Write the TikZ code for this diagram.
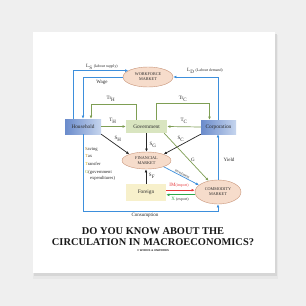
\documentclass[tikz,border=0pt]{standalone}
\usepackage{fontspec}
\setmainfont{Liberation Serif}
\newfontfamily\tinysans{Liberation Sans}
\usetikzlibrary{arrows.meta,shapes.geometric}
\definecolor{bgc}{HTML}{EFEFEF}
\definecolor{shd}{HTML}{D6D6D6}
\definecolor{hbl}{HTML}{6A8BCB}
\definecolor{hbr}{HTML}{C6D5EE}
\definecolor{gfill}{HTML}{D9E5C0}
\definecolor{ffill}{HTML}{F7F0CB}
\definecolor{mfill}{HTML}{F6DCCB}
\definecolor{mdraw}{HTML}{C9967B}
\definecolor{bl}{HTML}{3D8FDC}
\definecolor{gl}{HTML}{7E9E54}
\definecolor{rl}{HTML}{E8383A}
\definecolor{xl}{HTML}{2EA84A}
\definecolor{tx}{HTML}{2A2A2A}
\definecolor{savc}{HTML}{9C7A2C}
\definecolor{taxc}{HTML}{D2A632}
\definecolor{trc}{HTML}{D8BC2E}
\definecolor{gc}{HTML}{9DB24A}
\newcommand\smtxt{\fontsize{3.9}{4.4}\selectfont}
\begin{document}
\begin{tikzpicture}[x=1pt,y=-1pt,
  boxstyle/.style={rectangle, inner sep=0pt, text=tx, font=\fontsize{5.3}{6}\selectfont},
  hbox/.style={boxstyle, left color=hbl, right color=hbr, minimum width=36pt, minimum height=15pt},
  gbox/.style={boxstyle, fill=gfill, minimum width=41pt, minimum height=13pt},
  fbox/.style={boxstyle, fill=ffill, minimum width=40pt, minimum height=17pt},
  mkt/.style={ellipse, draw=mdraw, fill=mfill, line width=0.4pt, inner sep=0pt,
    minimum width=50pt, minimum height=20pt, align=center, text=tx,
    font=\fontsize{4.2}{4.8}\selectfont},
  lbl/.style={inner sep=0.8pt, text=tx, font=\fontsize{5}{5.6}\selectfont},
  arr/.style={-{Latex[length=3.2pt,width=2.8pt]}},
  bline/.style={draw=bl, line width=0.7pt},
  gline/.style={draw=gl, line width=0.7pt},
  kline/.style={draw=black!85, line width=0.7pt},
]
\useasboundingbox (0,0) rectangle (306,306);
\fill[bgc] (0,0) rectangle (306,306);
\fill[shd!60] (33,35) rectangle (278,279);
\fill[shd] (34,34) rectangle (277,276);
\fill[white] (33,32) rectangle (275,273);

% nodes
\node[hbox] (hh) at (83,126.5) {Household};
\node[gbox] (gov) at (146.5,126.5) {Government};
\node[hbox, minimum width=35pt, minimum height=14pt] (corp) at (218.5,127) {Corporation};
\node[mkt] (wf) at (148,77) {WORKFORCE\\MARKET};
\node[mkt, minimum width=49pt, minimum height=17pt] (fm) at (146.5,160.5) {FINANCIAL\\MARKET};
\node[fbox] (for) at (146,192.5) {Foreign};
\node[mkt, minimum width=46pt, minimum height=24pt] (cm) at (218,192) {COMMODITY\\MARKET};

% labour market
\draw[bline,arr] ([xshift=-10pt]hh.north) |- (wf.162);
\node[lbl] (ls) at (102,67) {L\textsubscript{S} {\smtxt(labour supply)}};
\draw[bline,arr] (wf.west) -| (hh.north);
\node[lbl] (wage) at (102,82) {Wage};
\draw[bline,arr] (corp.north) |- (wf.east);
\node[lbl] (ld) at (205,71) {L\textsubscript{D} {\smtxt(Labour demand)}};

% transfers
\draw[gline,arr] ([xshift=-10pt]gov.north) -- ++(0,-15) -| ([xshift=8pt]hh.north);
\node[lbl] (trh) at (111,99) {Tr\textsubscript{H}};
\draw[gline,arr] ([xshift=10pt]gov.north) -- ++(0,-16) -| ([xshift=-9pt]corp.north);
\node[lbl] (trc) at (183,99) {Tr\textsubscript{C}};

% taxes
\draw[gline,arr] (hh.east) -- (gov.west);
\node[lbl] (th) at (113,121) {T\textsubscript{H}};
\draw[gline,arr] (corp.west) -- (gov.east);
\node[lbl] (tc) at (184,121) {T\textsubscript{C}};

% savings
\draw[kline,arr] (hh.south east) -- (fm.160);
\node[lbl] (sh) at (118,139) {S\textsubscript{H}};
\draw[kline,arr] (gov.south) -- (gov.south |- fm.north);
\node[lbl] (sg) at (153,145) {S\textsubscript{G}};
\draw[kline,arr] (corp.south west) -- (fm.20);
\node[lbl] (sc) at (181,139) {S\textsubscript{C}};
\draw[kline,arr] (for.north) -- (for.north |- fm.south);
\node[lbl] (sf) at (152,176) {S\textsubscript{F}};

% government expenditure
\draw[gline,arr] ([xshift=-3pt]gov.south east) -- (cm.130);
\node[lbl] (g) at (193,160) {G};

% investment
\draw[bline,arr] (fm.-20) -- (cm.160)
  node[midway, sloped, above, inner sep=0.6pt, text=tx, font=\fontsize{3.6}{4}\selectfont] (inv) {investment};

% trade
\coordinate (imS) at ([yshift=2.3pt]for.east);
\coordinate (exS) at ([yshift=-2.3pt]for.east);
\draw[draw=rl, line width=0.7pt, arr] (imS) -- (imS -| cm.west);
\node[lbl, text=rl] (im) at (179,185) {IM{\smtxt(import)}};
\draw[draw=xl, line width=0.7pt, arr] (exS -| cm.west) -- (exS);
\node[lbl] (ex) at (180,199.5) {\textcolor{xl}{X} {\smtxt(export)}};

% yield and consumption
\draw[bline,arr] (cm.north) -- (cm.north |- corp.south);
\node[lbl] (yield) at (229,160) {Yield};
\draw[bline,arr] (hh.south) -- ++(0,77) -| (cm.south);
\node[lbl] (cons) at (145,215.5) {Consumption};

% legend
\node[lbl, anchor=west, font=\fontsize{4.6}{5}\selectfont] (l1) at (84,149) {\textcolor{savc}{S}aving};
\node[lbl, anchor=west, font=\fontsize{4.6}{5}\selectfont] (l2) at (84,156.5) {\textcolor{taxc}{T}ax};
\node[lbl, anchor=west, font=\fontsize{4.6}{5}\selectfont] (l3) at (84,164) {\textcolor{trc}{T}ransfer};
\node[lbl, anchor=west, align=left, font=\fontsize{4.6}{6}\selectfont] (l4) at (84,175.5) {\textcolor{gc}{G}(government\\\hspace*{5pt}expenditures)};

% title
\node[align=center, text=black!90, font=\bfseries\fontsize{10.4}{11}\selectfont] (title) at (153,236.5)
  {DO YOU KNOW ABOUT THE\\CIRCULATION IN MACROECONOMICS?};
\node[text=black!80, font=\tinysans\bfseries\fontsize{2.8}{3}\selectfont] (copy) at (153,251) {© WORDS \& UNWORDS};
\end{tikzpicture}
\end{document}
